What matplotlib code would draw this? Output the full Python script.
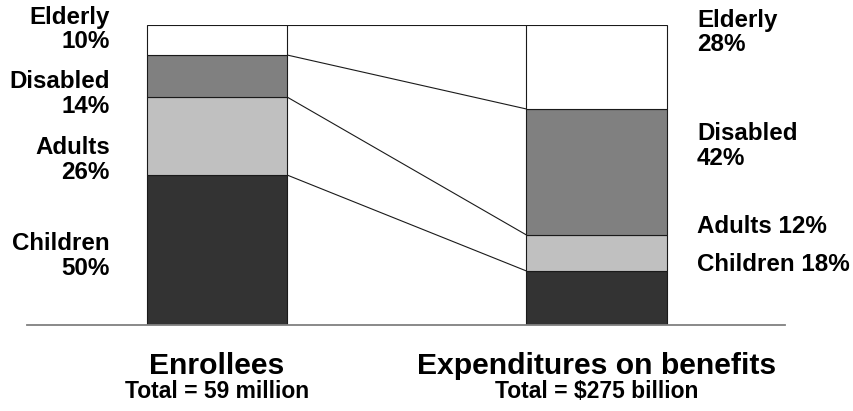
import numpy as np
import matplotlib
matplotlib.use("Agg")
import matplotlib.pyplot as plt

plt.rcParams['font.family'] = ['Liberation Sans', 'DejaVu Sans']
plt.rcParams['font.weight'] = 'bold'

##Data
groups = ["Elderly", "Disabled", "Adults", "Children"]
enrollees = [10, 14, 26, 50]        # percent
expenditures = [28, 42, 12, 18]     # percent
titles = ["Enrollees", "Expenditures on benefits"]
subtitles = ["Total = 59 million", "Total = $275 billion"]
colors = {"Children": "#333333", "Adults": "#c0c0c0",
          "Disabled": "#808080", "Elderly": "#ffffff"}

##Label layout (y in percent units, centre of text block)
left_labels = ["Elderly\n10%", "Disabled\n14%", "Adults\n26%", "Children\n50%"]
left_y = [98.5, 77.0, 55.0, 23.0]
right_labels = ["Elderly\n28%", "Disabled\n42%", "Adults 12%", "Children 18%"]
right_y = [97.5, 59.7, 33.0, 20.3]

W, H = 854, 411
fig = plt.figure(figsize=(W / 100, H / 100), dpi=100)
ax = fig.add_axes([27 / W, (H - 325) / H, 758 / W, 300 / H])

xpos = [0, 1]
bw = 0.369
# stack from bottom: Children, Adults, Disabled, Elderly
order = groups[::-1]
cum = {}
for i, vals in enumerate([enrollees, expenditures]):
    vals_b = vals[::-1]
    bottom = 0
    tops = []
    for g, v in zip(order, vals_b):
        ax.bar(xpos[i], v, bw, bottom=bottom, color=colors[g],
               edgecolor='#1a1a1a', linewidth=0.8, zorder=2)
        bottom += v
        tops.append(bottom)
    cum[i] = tops

##Connector lines between bars
for a, b in zip(cum[0], cum[1]):
    ax.plot([xpos[0] + bw / 2, xpos[1] - bw / 2], [a, b], color='#1a1a1a',
            lw=0.8, zorder=1)

ax.set_xlim(-0.5007, 1.4967)
ax.set_ylim(0, 100)
for s in ['top', 'left', 'right']:
    ax.spines[s].set_visible(False)
ax.spines['bottom'].set_color('#808080')
ax.spines['bottom'].set_linewidth(1.3)
ax.set_xticks([])
ax.set_yticks([])
ax.patch.set_alpha(0)

fs = 17.4
for lab, y in zip(left_labels, left_y):
    ax.text(-0.282, y, lab, ha='right', va='center', fontsize=fs,
            fontweight='bold', linespacing=1.1, clip_on=False)
for lab, y in zip(right_labels, right_y):
    ax.text(1.265, y, lab, ha='left', va='center', fontsize=fs,
            fontweight='bold', linespacing=1.1, clip_on=False)

for i in range(2):
    ax.text(xpos[i], -13.5, titles[i], ha='center', va='center',
            fontsize=21.7, fontweight='bold', clip_on=False)
    ax.text(xpos[i], -22.0, subtitles[i], ha='center', va='center',
            fontsize=16.5, fontweight='bold', clip_on=False)

fig.savefig("out.png", dpi=100)
